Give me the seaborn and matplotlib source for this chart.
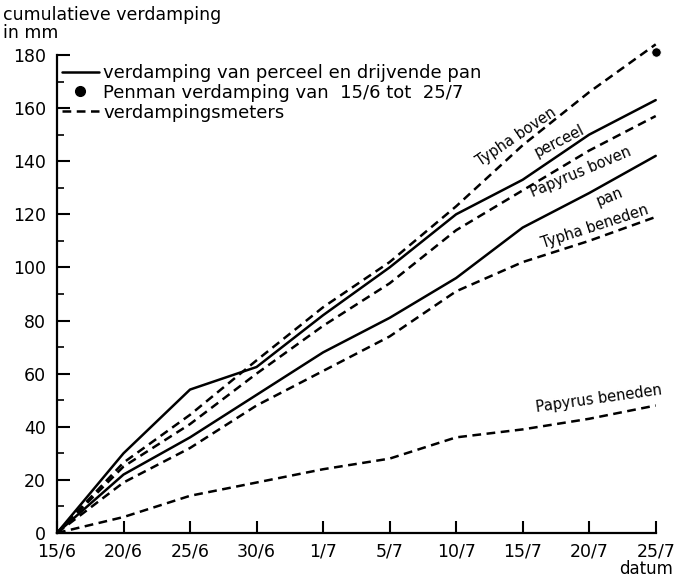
import numpy as np
import pandas as pd
import matplotlib
matplotlib.use("Agg")
import matplotlib.pyplot as plt
from matplotlib.lines import Line2D
import seaborn as sns

# Dates of observation (evenly spaced on the axis)
dates = ["15/6", "20/6", "25/6", "30/6", "1/7", "5/7", "10/7", "15/7", "20/7", "25/7"]

# Cumulative evaporation in mm
perceel = [0, 30, 54, 62.5, 82, 100, 120, 133, 150, 163]
pan = [0, 22, 36, 52, 68, 81, 96, 115, 128, 142]
typha_boven = [0, 26.5, 44.5, 65, 85, 102, 123, 146, 166, 184]
papyrus_boven = [0, 25, 41, 60, 78, 94, 114, 129, 144, 157]
typha_beneden = [0, 19, 32, 48, 61, 74, 91, 102, 110, 119]
papyrus_beneden = [0, 6, 14, 19, 24, 28, 36, 39, 43, 48]

# Penman estimate for the whole period
penman_date = "25/7"
penman_value = 181

sns.set_style("ticks")
plt.rcParams["font.family"] = ["DejaVu Sans"]
for key in ("text.color", "axes.labelcolor", "xtick.color", "ytick.color",
            "axes.edgecolor"):
    plt.rcParams[key] = "black"

fig = plt.figure(figsize=(6.76, 5.78), dpi=100)
ax = fig.add_axes([0.0843, 0.0779, 0.8857, 0.8546])

pos = np.arange(len(dates))
solid = {"perceel": perceel, "pan": pan}
dashed = {
    "Typha boven": typha_boven,
    "Papyrus boven": papyrus_boven,
    "Typha beneden": typha_beneden,
    "Papyrus beneden": papyrus_beneden,
}

for name, vals in solid.items():
    sns.lineplot(x=pos, y=vals, ax=ax, color="black", lw=1.8, clip_on=False)
for name, vals in dashed.items():
    line = sns.lineplot(x=pos, y=vals, ax=ax, color="black", lw=1.8, clip_on=False)
    line.lines[-1].set_dashes((3.5, 2.2))

sns.scatterplot(x=[dates.index(penman_date)], y=[penman_value], ax=ax,
                color="black", s=45, clip_on=False, zorder=5)

ax.set_xlim(0, len(dates) - 1)
ax.set_ylim(0, 186)
ax.spines["top"].set_visible(False)
ax.spines["right"].set_visible(False)
ax.spines["left"].set_bounds(0, 180)
for sp in ("left", "bottom"):
    ax.spines[sp].set_linewidth(1.6)

ax.set_xticks(pos)
ax.set_xticklabels(dates)
ax.set_yticks(np.arange(0, 181, 20))
ax.set_yticks(np.arange(10, 180, 20), minor=True)
ax.tick_params(axis="both", which="major", direction="in", length=9, width=1.5,
               labelsize=12.5)
ax.tick_params(axis="x", which="major", pad=6.5)
ax.tick_params(axis="y", which="major", pad=8)
ax.tick_params(axis="y", which="minor", direction="in", length=5, width=1.2)
ax.set_xlabel("")
ax.set_ylabel("")

fig.text(0.005, 0.99, "cumulatieve verdamping\nin mm", ha="left", va="top",
         fontsize=12.5, linespacing=1.05)
fig.text(0.995, 0.0, "datum", ha="right", va="bottom", fontsize=12)

# Curve labels
lbl = dict(fontsize=10.5, ha="center", va="center")
ax.text(6.9, 149, "Typha boven", rotation=34, **lbl)
ax.text(7.55, 147.5, "perceel", rotation=27, **lbl)
ax.text(7.88, 136, "Papyrus boven", rotation=23, **lbl)
ax.text(8.3, 126.5, "pan", rotation=22, **lbl)
ax.text(8.08, 115.5, "Typha beneden", rotation=18, **lbl)
ax.text(8.15, 50.5, "Papyrus beneden", rotation=8, **lbl)

handles = [
    Line2D([], [], color="black", lw=1.8),
    Line2D([], [], color="black", marker="o", ls="none", markersize=7),
    Line2D([], [], color="black", lw=1.8, dashes=(3.5, 2.2)),
]
labels = [
    "verdamping van perceel en drijvende pan",
    "Penman verdamping van  15/6 tot  25/7",
    "verdampingsmeters",
]
ax.legend(handles, labels, loc="upper left", bbox_to_anchor=(-0.012, 0.975),
          frameon=False, fontsize=13, handlelength=2.0, handletextpad=0.25,
          labelspacing=0.1, borderaxespad=0.3)

fig.savefig("out.png", dpi=100)
